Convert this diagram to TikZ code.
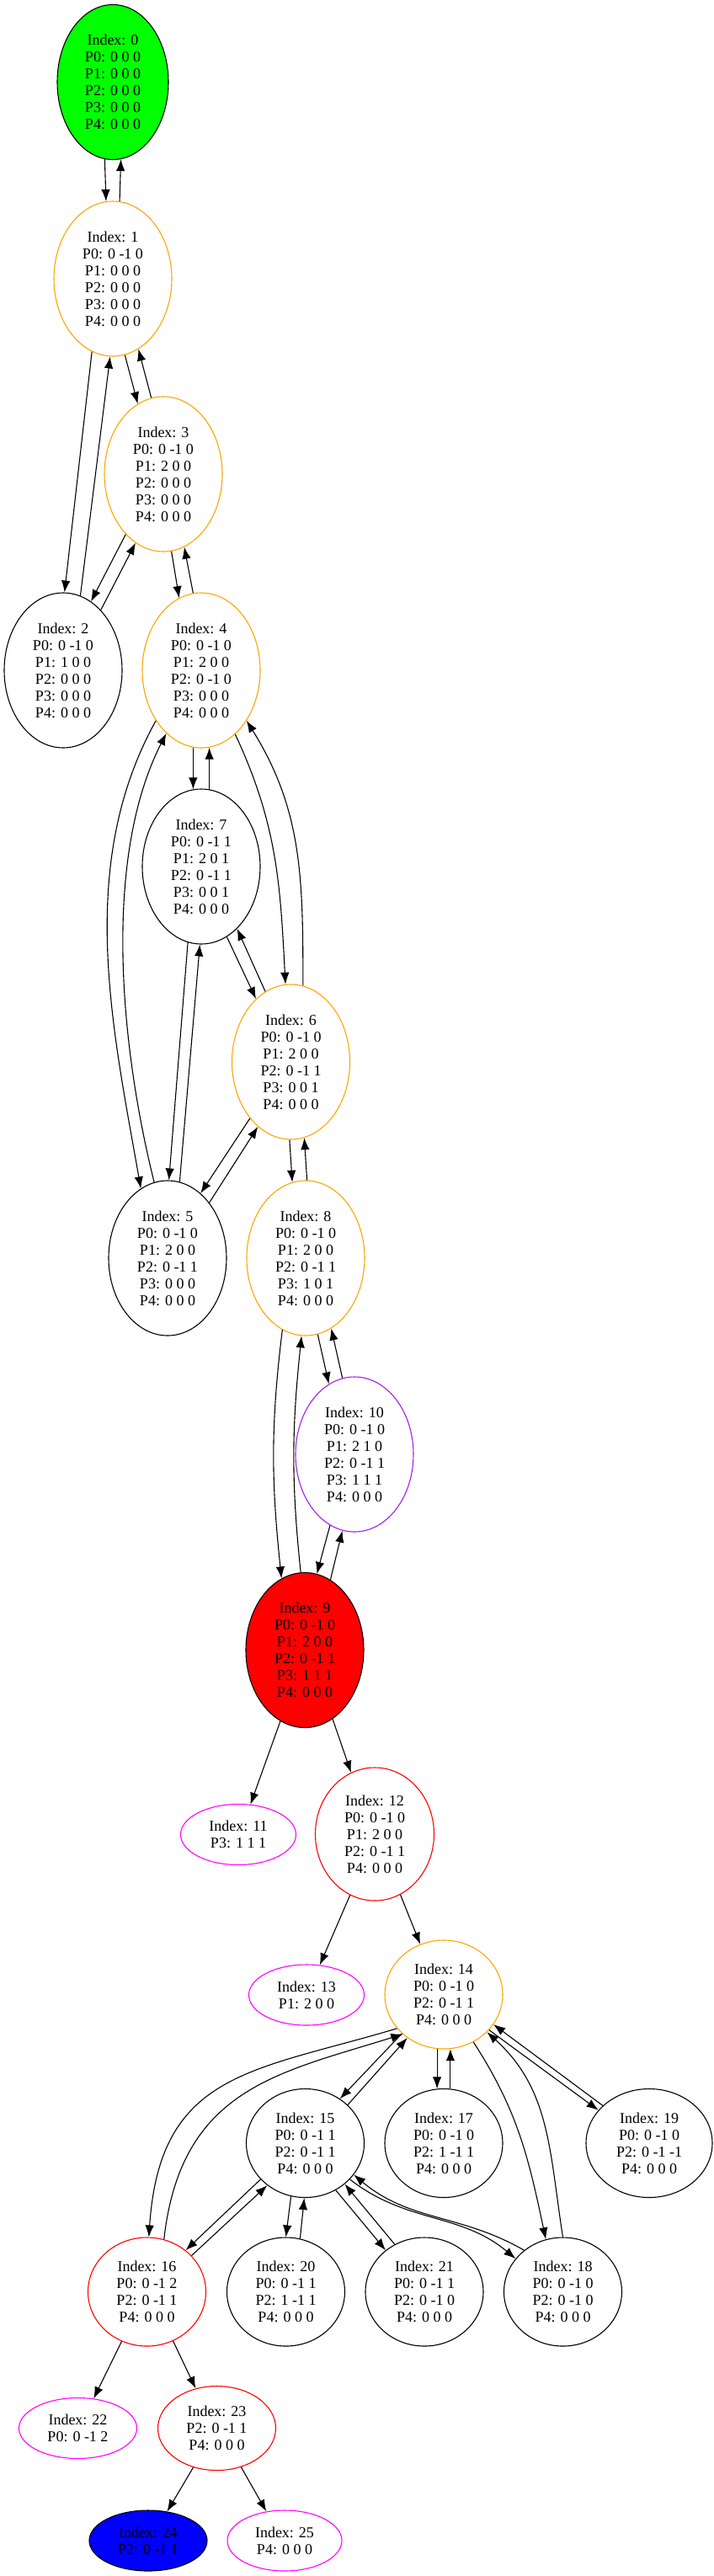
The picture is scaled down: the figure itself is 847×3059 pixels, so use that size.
\documentclass[tikz,border=0pt]{standalone}
\usepackage{fontspec}
\setmainfont{Liberation Serif}
\usetikzlibrary{arrows.meta,shapes.geometric}
\definecolor{gvorange}{HTML}{FFA500}
\definecolor{gvpurple}{HTML}{A020F0}
\definecolor{gvmagenta}{HTML}{FF00FF}
\definecolor{gvgreen}{HTML}{00FF00}
\definecolor{gvred}{HTML}{FF0000}
\definecolor{gvblue}{HTML}{0000FF}

\begin{document}
\begin{tikzpicture}[
  x=1pt, y=1pt,
  font=\fontsize{18}{20}\selectfont,
  st/.style={draw, ellipse, align=center, inner sep=0pt, line width=1.1pt},
  big/.style={st, minimum width=140pt, minimum height=184pt},
  mid/.style={st, minimum width=140pt, minimum height=129pt},
  low/.style={st, minimum width=138pt, minimum height=72pt},
  arr/.style={-{Latex[length=14pt,width=10.5pt]}, line width=1.1pt}
]
\useasboundingbox (0,0) rectangle (847,-3059);
\node[big, fill=gvgreen, minimum width=132pt] (s0) at (134,-97.5) {Index: 0\\P0: 0 0 0\\P1: 0 0 0\\P2: 0 0 0\\P3: 0 0 0\\P4: 0 0 0};
\node[big, draw=gvorange] (s1) at (134,-331) {Index: 1\\P0: 0 -1 0\\P1: 0 0 0\\P2: 0 0 0\\P3: 0 0 0\\P4: 0 0 0};
\node[big, draw=gvorange] (s3) at (194,-563) {Index: 3\\P0: 0 -1 0\\P1: 2 0 0\\P2: 0 0 0\\P3: 0 0 0\\P4: 0 0 0};
\node[big] (s2) at (75,-796) {Index: 2\\P0: 0 -1 0\\P1: 1 0 0\\P2: 0 0 0\\P3: 0 0 0\\P4: 0 0 0};
\node[big, draw=gvorange] (s4) at (239,-796) {Index: 4\\P0: 0 -1 0\\P1: 2 0 0\\P2: 0 -1 0\\P3: 0 0 0\\P4: 0 0 0};
\node[big] (s7) at (239,-1029) {Index: 7\\P0: 0 -1 1\\P1: 2 0 1\\P2: 0 -1 1\\P3: 0 0 1\\P4: 0 0 0};
\node[big, draw=gvorange] (s6) at (345.5,-1261) {Index: 6\\P0: 0 -1 0\\P1: 2 0 0\\P2: 0 -1 1\\P3: 0 0 1\\P4: 0 0 0};
\node[big] (s5) at (199,-1494) {Index: 5\\P0: 0 -1 0\\P1: 2 0 0\\P2: 0 -1 1\\P3: 0 0 0\\P4: 0 0 0};
\node[big, draw=gvorange] (s8) at (363,-1494) {Index: 8\\P0: 0 -1 0\\P1: 2 0 0\\P2: 0 -1 1\\P3: 1 0 1\\P4: 0 0 0};
\node[big, draw=gvpurple] (s10) at (421,-1727) {Index: 10\\P0: 0 -1 0\\P1: 2 1 0\\P2: 0 -1 1\\P3: 1 1 1\\P4: 0 0 0};
\node[big, fill=gvred] (s9) at (362,-1959.5) {Index: 9\\P0: 0 -1 0\\P1: 2 0 0\\P2: 0 -1 1\\P3: 1 1 1\\P4: 0 0 0};
\node[low, draw=gvmagenta, minimum width=137pt] (s11) at (283,-2178.5) {Index: 11\\P3: 1 1 1};
\node[st, draw=gvred, minimum width=141pt, minimum height=158pt] (s12) at (445,-2178) {Index: 12\\P0: 0 -1 0\\P1: 2 0 0\\P2: 0 -1 1\\P4: 0 0 0};
\node[low, draw=gvmagenta, minimum width=137pt] (s13) at (364,-2369) {Index: 13\\P1: 2 0 0};
\node[mid, draw=gvorange] (s14) at (527,-2368.5) {Index: 14\\P0: 0 -1 0\\P2: 0 -1 1\\P4: 0 0 0};
\node[mid] (s15) at (362.5,-2545) {Index: 15\\P0: 0 -1 1\\P2: 0 -1 1\\P4: 0 0 0};
\node[mid] (s17) at (527,-2545) {Index: 17\\P0: 0 -1 0\\P2: 1 -1 1\\P4: 0 0 0};
\node[mid, minimum width=150pt] (s19) at (771,-2545) {Index: 19\\P0: 0 -1 0\\P2: 0 -1 -1\\P4: 0 0 0};
\node[mid, draw=gvred] (s16) at (174.5,-2721.5) {Index: 16\\P0: 0 -1 2\\P2: 0 -1 1\\P4: 0 0 0};
\node[mid] (s20) at (339.5,-2721.5) {Index: 20\\P0: 0 -1 1\\P2: 1 -1 1\\P4: 0 0 0};
\node[mid] (s21) at (504,-2721.5) {Index: 21\\P0: 0 -1 1\\P2: 0 -1 0\\P4: 0 0 0};
\node[mid] (s18) at (668.5,-2721.5) {Index: 18\\P0: 0 -1 0\\P2: 0 -1 0\\P4: 0 0 0};
\node[low, draw=gvmagenta, minimum width=140pt] (s22) at (92.5,-2883.5) {Index: 22\\P0: 0 -1 2};
\node[st, draw=gvred, minimum width=140pt, minimum height=100pt] (s23) at (257.5,-2883.5) {Index: 23\\P2: 0 -1 1\\P4: 0 0 0};
\node[low, fill=gvblue, minimum width=140pt] (s24) at (176,-3017) {Index: 24\\P2: 0 -1 1};
\node[low, draw=gvmagenta, minimum width=136pt] (s25) at (338,-3017) {Index: 25\\P4: 0 0 0};
\draw[arr] (s0.264) -- (s1.95);
\draw[arr] (s1.85) -- (s0.276);
\draw[arr] (s1.254) -- (s2.89);
\draw[arr] (s2.77) -- (s1.268);
\draw[arr] (s1.279) -- (s3.110);
\draw[arr] (s3.99) -- (s1.290);
\draw[arr] (s3.238) -- (s2.68);
\draw[arr] (s2.58) -- (s3.248);
\draw[arr] (s3.276) -- (s4.107);
\draw[arr] (s4.96) -- (s3.286);
\draw[arr] (s4.264) -- (s7.96);
\draw[arr] (s7.84) -- (s4.276);
\draw[arr] (s4.228) to[out=241, in=100, looseness=0.9] (s5.111);
\draw[arr] (s5.100) to[out=104, in=243, looseness=0.8] (s4.241);
\draw[arr] (s4.298) to[out=295, in=93] (s6.94);
\draw[arr] (s6.81) to[out=90, in=302] (s4.312);
\draw[arr] (s7.260) -- (s5.89);
\draw[arr] (s5.81) -- (s7.269);
\draw[arr] (s7.290) -- (s6.119);
\draw[arr] (s6.110) -- (s7.300);
\draw[arr] (s6.234) -- (s5.63);
\draw[arr] (s5.53) -- (s6.243);
\draw[arr] (s6.269) -- (s8.100);
\draw[arr] (s8.89) -- (s6.280);
\draw[arr] (s8.252) to[out=263, in=96] (s9.108);
\draw[arr] (s9.93) to[out=96, in=264] (s8.267);
\draw[arr] (s8.279) -- (s10.110);
\draw[arr] (s10.99) -- (s8.290);
\draw[arr] (s10.251) -- (s9.81);
\draw[arr] (s9.70) -- (s10.261);
\draw[arr] (s9.251) -- (s11.68);
\draw[arr] (s9.292) -- (s12.111);
\draw[arr] (s12.248) -- (s13.66);
\draw[arr] (s12.293) -- (s14.115);
\draw[arr] (s14.223) -- (s15.52);
\draw[arr] (s15.42) -- (s14.230);
\draw[arr] (s14.216) .. controls (300,-2460) and (190,-2460) .. (s16.88);
\draw[arr] (s16.72) .. controls (215,-2480) and (330,-2462) .. (s14.224);
\draw[arr] (s14.263) -- (s17.97);
\draw[arr] (s17.83) -- (s14.277);
\draw[arr] (s14.302) to[out=303, in=102] (s18.108);
\draw[arr] (s18.90) to[out=99, in=318] (s14.319);
\draw[arr] (s14.322) -- (s19.147);
\draw[arr] (s19.141) -- (s14.329);
\draw[arr] (s15.219) -- (s16.47);
\draw[arr] (s16.39) -- (s15.228);
\draw[arr] (s15.255) -- (s20.90);
\draw[arr] (s20.75) -- (s15.269);
\draw[arr] (s15.303) -- (s21.133);
\draw[arr] (s21.122) -- (s15.314);
\draw[arr] (s15.321) to[out=-38, in=140] (s18.145);
\draw[arr] (s18.133) to[out=150, in=320] (s15.327);
\draw[arr] (s16.243) -- (s22.62);
\draw[arr] (s16.298) -- (s23.118);
\draw[arr] (s23.239) -- (s24.57);
\draw[arr] (s23.302) -- (s25.122);
\end{tikzpicture}
\end{document}
